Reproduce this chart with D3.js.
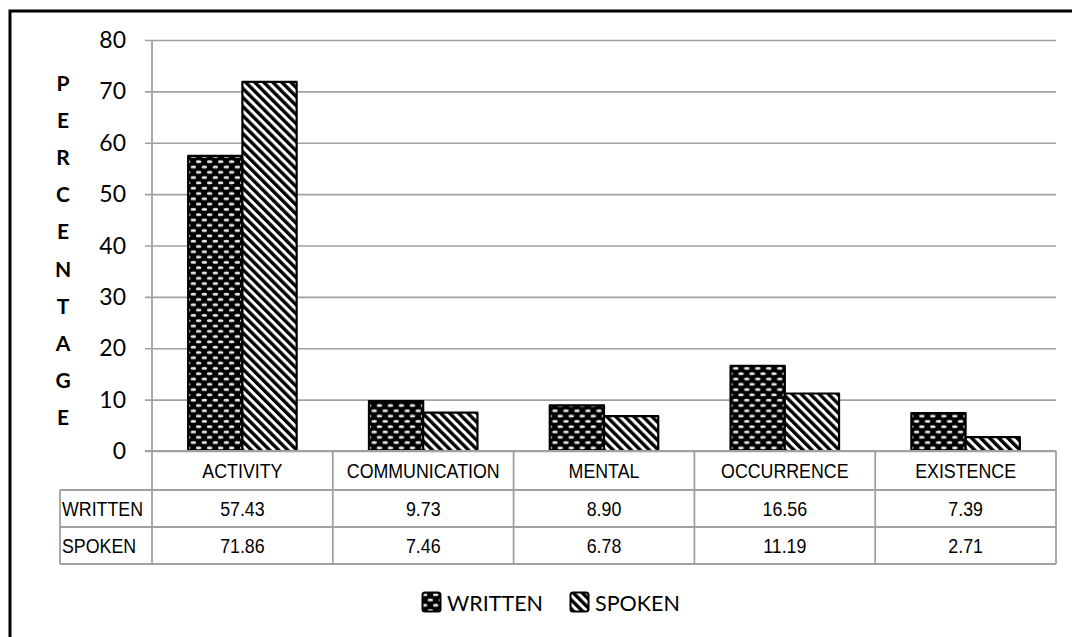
<!DOCTYPE html>
<html>
<head>
<meta charset="utf-8">
<script src="https://cdn.jsdelivr.net/npm/d3@7"></script>
<style>
  html, body { margin: 0; padding: 0; background: #fff; }
  svg { display: block; }
</style>
</head>
<body>
<svg id="chart" width="1072" height="637"></svg>
<script>
// Verb categories and percentages for each register
const categories = ["ACTIVITY", "COMMUNICATION", "MENTAL", "OCCURRENCE", "EXISTENCE"];
const seriesNames = ["WRITTEN", "SPOKEN"];
const writtenValues = [57.43, 9.73, 8.90, 16.56, 7.39];
const spokenValues = [71.86, 7.46, 6.78, 11.19, 2.71];
const writtenLabels = ["57.43", "9.73", "8.90", "16.56", "7.39"];
const spokenLabels = ["71.86", "7.46", "6.78", "11.19", "2.71"];
const yTicks = [0, 10, 20, 30, 40, 50, 60, 70, 80];
const axisTitle = "PERCENTAGE";

const seriesValues = { WRITTEN: writtenValues, SPOKEN: spokenValues };
const seriesLabels = { WRITTEN: writtenLabels, SPOKEN: spokenLabels };

const svg = d3.select("#chart");
const gridColor = "#a0a0a0";

// Fill patterns
const defs = svg.append("defs");
const pw = defs.append("pattern")
  .attr("id", "pat-written").attr("patternUnits", "userSpaceOnUse")
  .attr("width", 11).attr("height", 10.6);
pw.append("rect").attr("width", 11).attr("height", 10.6).attr("fill", "#000");
pw.append("ellipse").attr("cx", 2.75).attr("cy", 2.65).attr("rx", 2.8).attr("ry", 1.5).attr("fill", "#e4e4e4");
pw.append("ellipse").attr("cx", 8.25).attr("cy", 7.95).attr("rx", 2.8).attr("ry", 1.5).attr("fill", "#e4e4e4");

const ps = defs.append("pattern")
  .attr("id", "pat-spoken").attr("patternUnits", "userSpaceOnUse")
  .attr("width", 6.4).attr("height", 6.4)
  .attr("patternTransform", "rotate(-45)");
ps.append("rect").attr("width", 6.4).attr("height", 6.4).attr("fill", "#fff");
ps.append("rect").attr("width", 3.4).attr("height", 6.4).attr("fill", "#000");

const fills = { WRITTEN: "url(#pat-written)", SPOKEN: "url(#pat-spoken)" };

// Outer frame
svg.append("rect")
  .attr("x", 10).attr("y", 11).attr("width", 1200).attr("height", 800)
  .attr("fill", "none").attr("stroke", "#000").attr("stroke-width", 3);

// Scales
const plotLeft = 152, plotRight = 1056, plotTop = 40, plotBottom = 451;
const x = d3.scaleBand().domain(categories).range([plotLeft, plotRight]).paddingInner(0).paddingOuter(0);
const bw = x.bandwidth();
const x1 = d3.scaleBand().domain(seriesNames).range([bw * 0.2, bw * 0.8]).padding(0);
const y = d3.scaleLinear().domain([0, 80]).range([plotBottom, plotTop]);

// Gridlines with tick stubs
const gy = svg.append("g")
  .attr("transform", `translate(${plotLeft},0)`)
  .call(d3.axisLeft(y).tickValues(yTicks).tickSize(-(plotRight - plotLeft)).tickFormat(""));
gy.select(".domain").remove();
gy.selectAll(".tick line").attr("stroke", gridColor).attr("stroke-width", 1.6).attr("x1", -7);

// Y tick labels
svg.append("g").selectAll("text").data(yTicks).join("text")
  .attr("x", 126).attr("y", d => y(d) + 8)
  .attr("text-anchor", "end")
  .attr("font-family", "Lato, 'Open Sans', sans-serif").attr("font-size", 23)
  .attr("fill", "#000")
  .text(d => d);

// Vertical axis title, one letter per line
svg.append("g").selectAll("text").data(axisTitle.split("")).join("text")
  .attr("x", 63).attr("y", (d, i) => 83 + i * 37.2 + 7.5)
  .attr("text-anchor", "middle")
  .attr("font-family", "Lato, 'Open Sans', sans-serif").attr("font-weight", "bold").attr("font-size", 21)
  .attr("fill", "#000")
  .text(d => d);

// Bars
const groups = svg.append("g").selectAll("g").data(categories).join("g")
  .attr("transform", d => `translate(${x(d)},0)`);
groups.selectAll("rect").data((d, i) => seriesNames.map(s => ({ s, v: seriesValues[s][i] }))).join("rect")
  .attr("x", d => x1(d.s))
  .attr("y", d => y(d.v))
  .attr("width", x1.bandwidth())
  .attr("height", d => y(0) - y(d.v))
  .attr("fill", d => fills[d.s])
  .attr("stroke", "#000").attr("stroke-width", 2.2)
  .attr("stroke-linejoin", "round");

// Data table below the axis
const rowTop = [451, 490, 527, 564];
const tableLeft = 60;
const tbl = svg.append("g").attr("stroke", gridColor).attr("stroke-width", 1.8).attr("fill", "none");
// axis baseline
tbl.append("line").attr("x1", plotLeft - 7).attr("x2", plotRight).attr("y1", rowTop[0]).attr("y2", rowTop[0]);
// row lines
[rowTop[1], rowTop[2], rowTop[3]].forEach(yy => {
  tbl.append("line").attr("x1", tableLeft).attr("x2", plotRight).attr("y1", yy).attr("y2", yy);
});
// y axis line down through table
tbl.append("line").attr("x1", plotLeft).attr("x2", plotLeft).attr("y1", plotTop).attr("y2", rowTop[3]);
// category separators
categories.forEach(c => {
  const xe = x(c) + bw;
  tbl.append("line").attr("x1", xe).attr("x2", xe).attr("y1", rowTop[0]).attr("y2", rowTop[3]);
});
tbl.append("line").attr("x1", tableLeft).attr("x2", tableLeft).attr("y1", rowTop[1]).attr("y2", rowTop[3]);

const tableFont = "'Liberation Sans', Arial, sans-serif";
function cellText(g, cx, cy, txt, anchor) {
  g.append("text")
    .attr("transform", `translate(${cx},${cy}) scale(0.89,1)`)
    .attr("text-anchor", anchor)
    .attr("font-family", tableFont).attr("font-size", 20)
    .attr("fill", "#000")
    .text(txt);
}
const cells = svg.append("g");
categories.forEach((c, i) => {
  const cx = x(c) + bw / 2;
  cellText(cells, cx, 478, c, "middle");
  cellText(cells, cx, 516, seriesLabels.WRITTEN[i], "middle");
  cellText(cells, cx, 553, seriesLabels.SPOKEN[i], "middle");
});
cellText(cells, 62, 516, "WRITTEN", "start");
cellText(cells, 62, 553, "SPOKEN", "start");

// Legend
const legendItems = [
  { s: "WRITTEN", x: 422 },
  { s: "SPOKEN", x: 570 }
];
const lg = svg.append("g").selectAll("g").data(legendItems).join("g")
  .attr("transform", d => `translate(${d.x},592)`);
lg.append("rect")
  .attr("x", 0.5).attr("y", 0.5).attr("width", 18).attr("height", 19).attr("rx", 2.5)
  .attr("fill", d => fills[d.s]).attr("stroke", "#000").attr("stroke-width", 2);
lg.append("text")
  .attr("x", 25).attr("y", 19)
  .attr("font-family", "Lato, 'Open Sans', sans-serif").attr("font-size", 21.5)
  .attr("fill", "#000")
  .text(d => d.s);
</script>
</body>
</html>
